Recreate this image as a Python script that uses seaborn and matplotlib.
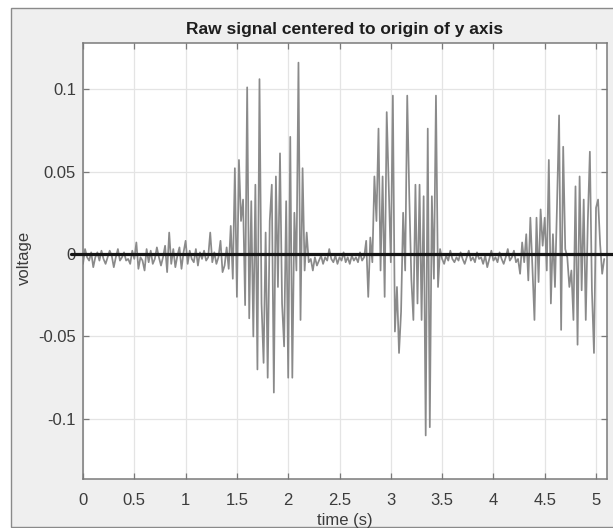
import numpy as np
import pandas as pd
import matplotlib
matplotlib.use("Agg")
import matplotlib.pyplot as plt
import seaborn as sns
from matplotlib.patches import Rectangle

# ---------------- data (millivolts) ----------------
quiet_1_mV = [-6, 3, -2, -4, 1, -8, -2, 1, -4, 2,
              -3, -6, -2, 2, -1, -8, -2, 3, -4, -2,
              1, -4, -3, -6, 2, -3, 7, -9, -2, -4,
              -10, 3, -5, 2, -6, -3, 4, -2, -7, -2,
              5, -11, 13, -6, 3, -8, -1, 4, -9, 1,
              8, -6, 2, -3, -5, 3, -7, 1, -3, 2,
              -4, -2, 13, -5, 1, -6, -2, 8, -11, -7,
              4, -9]
burst_1_mV = [17, -15, 52, -26, 57, 20, 33, -31, 101, -39,
              32, -50, 42, -70, 106, -30, -66, 13, -75, 20,
              42, -84, 47, -20, 61, -30, -56, 32, -75, 71,
              -75, 25, -10, 116, -40, 52, -10, 13, -5]
quiet_2_mV = [-3, -10, -2, -7, -4, -1, -6, -2, -4, 3,
              -3, -5, -1, -6, -2, -4, 1, -5, -2, -6,
              -1, -4, -2, -5, 1, -4, -2]
burst_2_mV = [8, -26, 10, -5, 47, 20, 76, -10, 47, -26,
              86, 40, -5, 96, -47, -20, -60, -35, 25, -10,
              96, 35, -15, -40, 42, -30, 42, -40, 35, -110,
              76, -105, 35, -15, 96, -20, 3]
quiet_3_mV = [-3, -6, -1, -4, 2, -3, -5, -2, -4, 1,
              -3, -6, -2, 2, -4, -2, -5, 1, -3, -2,
              -6, -1, -8, -3, 2, -4, -2, -5, 1, -3,
              -6, -2, 3, -4, -2, 2, -5, -3, -12]
burst_3_mV = [7, -5, 12, -16, 22, -8, -40, 22, -17, 27,
              5, 22, -10, 57, -30, 12, -20, 30, 84, -46,
              65, 3, -2, -20, -10, -40, 41, -55, 47, -22,
              33, -40, 20, 62, -22, -60, 28, 33, 6, -12,
              -3]

segments_mV = [quiet_1_mV, burst_1_mV, quiet_2_mV, burst_2_mV, quiet_3_mV, burst_3_mV]
segment_start_s = [0.00, 1.44, 2.22, 2.76, 3.50, 4.28]
sample_step_s = 0.02

zero_line_x = [-0.12, 5.20]
zero_line_y = [0.0, 0.0]

x_ticks = [0, 0.5, 1, 1.5, 2, 2.5, 3, 3.5, 4, 4.5, 5]
x_tick_labels = ["0", "0.5", "1", "1.5", "2", "2.5", "3", "3.5", "4", "4.5", "5"]
y_ticks = [-0.1, -0.05, 0, 0.05, 0.1]
y_tick_labels = ["-0.1", "-0.05", "0", "0.05", "0.1"]

title_text = "Raw signal centered to origin of y axis"
x_label = "time (s)"
y_label = "voltage"

# ---------------- build table ----------------
times, volts = [], []
for start, seg in zip(segment_start_s, segments_mV):
    times.extend(start + sample_step_s * np.arange(len(seg)))
    volts.extend(np.array(seg) / 1000.0)
df = pd.DataFrame({"time": times, "voltage": volts})

# ---------------- style ----------------
sns.set_theme(style="white")
plt.rcParams["font.family"] = ["Liberation Sans", "DejaVu Sans"]

W, H = 613, 528
fig = plt.figure(figsize=(W / 100, H / 100), dpi=100, facecolor="white")

# light grey figure panel with a thin frame (screenshot style)
fig.patches.append(Rectangle((11 / W, 1 - 527 / H), 1.2, (527 - 8) / H,
                             transform=fig.transFigure, facecolor="#efefef",
                             edgecolor="#8a8a8a", linewidth=1.0, zorder=-10))

ax = fig.add_axes([83 / W, 1 - 479 / H, (607 - 83) / W, (479 - 43) / H])
ax.set_facecolor("white")

sns.lineplot(data=df, x="time", y="voltage", ax=ax, estimator=None, sort=False,
             color="#8a8a8a", linewidth=1.25)
ax.plot(zero_line_x, zero_line_y, color="#151515", linewidth=2.3, clip_on=False, zorder=5)

ax.set_xlim(0, 5.107)
ax.set_ylim(-0.1364, 0.1279)
ax.set_xticks(x_ticks)
ax.set_xticklabels(x_tick_labels)
ax.set_yticks(y_ticks)
ax.set_yticklabels(y_tick_labels)

ax.grid(True, color="#e4e4e4", linewidth=0.9)
ax.set_axisbelow(True)
for sp in ax.spines.values():
    sp.set_visible(True)
    sp.set_color("#7a7a7a")
    sp.set_linewidth(1.1)

ax.tick_params(axis="both", which="both", direction="in", length=4, width=0.9,
               color="#7a7a7a", labelcolor="#3c3c3c", labelsize=12,
               top=True, right=True, bottom=True, left=True)
ax.tick_params(axis="x", pad=10)
ax.tick_params(axis="y", pad=5)

ax.set_title(title_text, fontsize=12.5, fontweight="bold", color="#1e1e1e", pad=6.5)
ax.set_xlabel(x_label, fontsize=12, color="#3c3c3c")
ax.set_ylabel(y_label, fontsize=12, color="#3c3c3c")
ax.xaxis.set_label_coords(0.5, -0.078)
ax.yaxis.set_label_coords(-0.097, 0.507)

fig.savefig("out.png", dpi=100, facecolor="white")
